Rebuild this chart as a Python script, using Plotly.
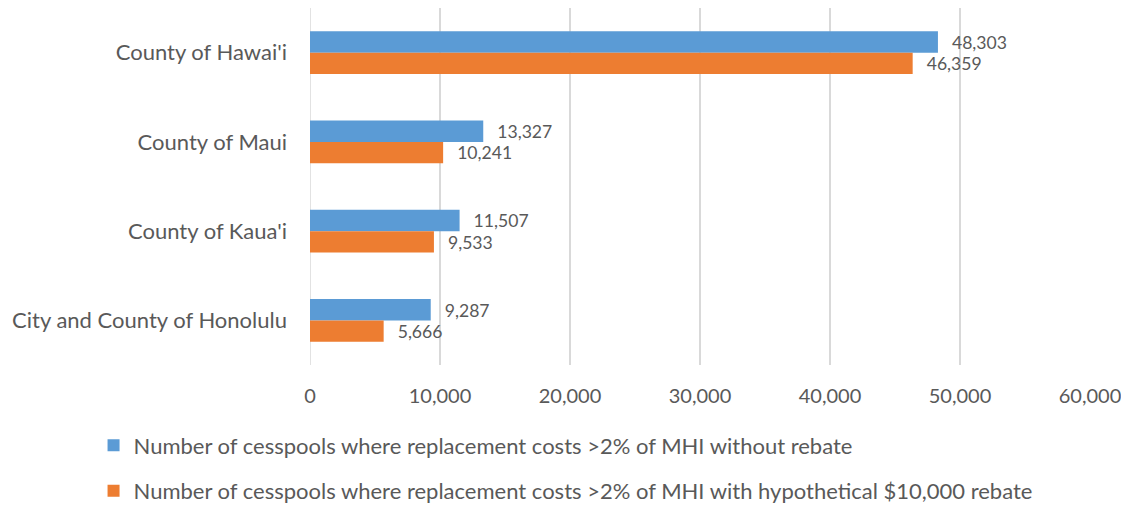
import plotly.graph_objects as go

categories = ["County of Hawai'i", "County of Maui", "County of Kaua'i", "City and County of Honolulu"]
without_rebate = [48303, 13327, 11507, 9287]
with_rebate = [46359, 10241, 9533, 5666]
series_names = [
    "Number of cesspools where replacement costs >2% of MHI without rebate",
    "Number of cesspools where replacement costs >2% of MHI with hypothetical $10,000 rebate",
]
tick_vals = [0, 10000, 20000, 30000, 40000, 50000, 60000]
tick_text = ["0", "10,000", "20,000", "30,000", "40,000", "50,000", "60,000"]

FONT = "Lato"
GRAY = "#595959"

W, H = 1121, 498
ML, MR, MT, MB = 302, 39, 0, 141
PLOT_H = H - MT - MB
PLOT_W = W - ML - MR

fig = go.Figure()
for vals, name, color, grp in [
    (without_rebate, series_names[0], "#5B9BD5", "a"),
    (with_rebate, series_names[1], "#ED7D31", "b"),
]:
    fig.add_trace(go.Bar(
        y=categories, x=vals, name=name, orientation="h",
        marker=dict(color=color, line=dict(width=0)),
        text=["\u2002\u2009" + f"{v:,}" for v in vals],
        textposition="outside",
        textfont=dict(family=FONT, size=23, color=GRAY),
        cliponaxis=False,
        legendgroup=grp,
    ))

fig.update_layout(
    width=W, height=H,
    margin=dict(l=ML, r=MR, t=MT, b=MB),
    paper_bgcolor="white", plot_bgcolor="white",
    barmode="group", bargap=0.52, bargroupgap=0,
    font=dict(family=FONT, size=21, color=GRAY),
    xaxis=dict(range=[0, 60000], tickvals=tick_vals, ticktext=tick_text,
               showgrid=True, gridcolor="#D9D9D9", gridwidth=1.5,
               zeroline=False, showline=False, ticks="",
               ticklabelstandoff=17,
               tickfont=dict(family=FONT, size=20, color=GRAY)),
    yaxis=dict(autorange="reversed", showgrid=False, zeroline=False,
               showline=False, ticks="", ticklabelstandoff=22,
               tickfont=dict(family=FONT, size=22, color=GRAY)),
    legend=dict(orientation="v", x=-0.2775, xanchor="left",
                yref="container", y=0.164, yanchor="top",
                traceorder="grouped", tracegroupgap=14,
                font=dict(family=FONT, size=22, color=GRAY),
                bgcolor="rgba(0,0,0,0)"),
    showlegend=True,
)
fig.add_shape(type="line", xref="x", yref="paper", x0=0, x1=0, y0=0, y1=1,
              line=dict(color="#D9D9D9", width=1.5), layer="below")

fig.write_html("out.html")
